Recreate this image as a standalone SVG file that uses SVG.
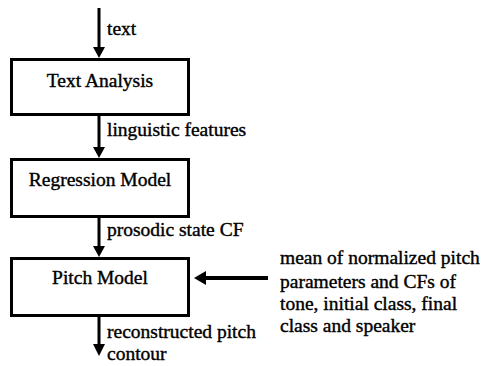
<svg xmlns="http://www.w3.org/2000/svg" width="491" height="366" viewBox="0 0 491 366">
<style>
.box{fill:#fff;stroke:#000;stroke-width:3}
.line{stroke:#000;stroke-width:3;fill:none}
.head{fill:#000}
.t{font-size:19.5px;fill:#000;stroke:#000;stroke-width:0.4}
.c{text-anchor:middle}
</style>
<rect width="491" height="366" fill="#fff"/>
<g font-family="'Liberation Serif', 'DejaVu Serif', serif">
<g id="connectors">
<line class="line" x1="99" y1="8" x2="99" y2="48"/>
<polygon class="head" points="93,47 105,47 99,58"/>
<line class="line" x1="99" y1="115" x2="99" y2="149"/>
<polygon class="head" points="93,147 105,147 99,158"/>
<line class="line" x1="99" y1="217" x2="99" y2="248"/>
<polygon class="head" points="93,246 105,246 99,257"/>
<line class="line" x1="99" y1="316" x2="99" y2="346"/>
<polygon class="head" points="93,344 105,344 99,356"/>
<line class="line" x1="268" y1="278" x2="204" y2="278" style="stroke-width:4"/>
<polygon class="head" points="194,278 206,271 206,285"/>
<text class="t" x="107" y="35">text</text>
<text class="t" x="107" y="136">linguistic features</text>
<text class="t" x="107" y="236">prosodic state CF</text>
<text class="t" x="107" y="338">reconstructed pitch</text>
<text class="t" x="107" y="360">contour</text>
</g>
<g id="text-analysis">
<rect class="box" x="11.5" y="59.5" width="177" height="55"/>
<text class="t c" x="100" y="87">Text Analysis</text>
</g>
<g id="regression-model">
<rect class="box" x="11.5" y="159.5" width="177" height="57"/>
<text class="t c" x="100" y="186">Regression Model</text>
</g>
<g id="pitch-model">
<rect class="box" x="11.5" y="258.5" width="177" height="57"/>
<text class="t c" x="100" y="284">Pitch Model</text>
</g>
<g id="pitch-parameters">
<text class="t" x="280" y="264">mean of normalized pitch</text>
<text class="t" x="280" y="288">parameters and CFs of</text>
<text class="t" x="280" y="310">tone, initial class, final</text>
<text class="t" x="280" y="332">class and speaker</text>
</g>
</g>
</svg>
